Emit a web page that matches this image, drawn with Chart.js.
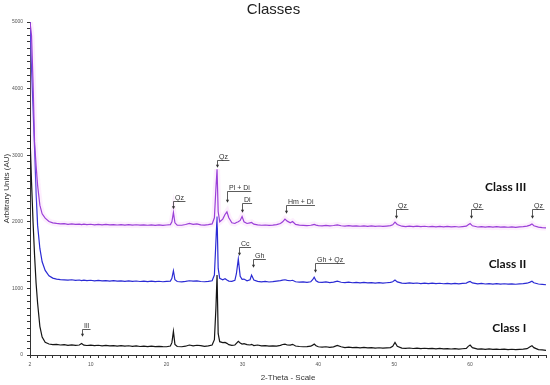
<!DOCTYPE html>
<html>
<head>
<meta charset="utf-8">
<script src="https://cdn.jsdelivr.net/npm/chart.js@4"></script>
<style>
  body { margin: 0; background: #fff; }
  #wrap { width: 550px; height: 385px; }
</style>
</head>
<body>
<div id="wrap"><canvas id="xrdChart" width="550" height="385"></canvas></div>
<script>
// 2-theta sampling (degrees)
const twoTheta = [
  2.0, 2.2, 2.4, 2.6, 2.8, 3.0, 3.3, 3.6, 4.0, 4.5,
  5.0, 5.5, 6.0, 6.5, 7.0, 7.5, 8.0, 8.5, 8.8, 9.1,
  9.5, 10.0, 10.5, 11.0, 11.5, 12.0, 12.5, 13.0, 13.5, 14.0,
  14.5, 15.0, 15.5, 16.0, 16.5, 17.0, 17.5, 18.0, 18.5, 19.0,
  19.5, 20.0, 20.5, 20.7, 20.9, 21.1, 21.4, 22.0, 22.5, 23.0,
  23.5, 24.0, 24.5, 25.0, 25.5, 26.0, 26.3, 26.5, 26.65, 26.8,
  27.0, 27.4, 27.7, 27.95, 28.2, 28.6, 29.0, 29.2, 29.45, 29.7,
  29.95, 30.2, 30.6, 31.0, 31.2, 31.5, 32.0, 32.5, 33.0, 33.5,
  34.0, 34.5, 35.0, 35.3, 35.6, 35.9, 36.3, 36.6, 37.0, 37.5,
  38.0, 38.5, 39.0, 39.25, 39.45, 39.7, 40.0, 40.5, 41.0, 41.5,
  42.0, 42.5, 43.0, 43.5, 44.0, 44.5, 45.0, 45.5, 46.0, 46.5,
  47.0, 47.5, 48.0, 48.5, 49.0, 49.5, 49.8, 50.1, 50.4, 51.0,
  51.5, 52.0, 52.5, 53.0, 53.5, 54.0, 54.5, 55.0, 55.5, 56.0,
  56.5, 57.0, 57.5, 58.0, 58.5, 59.0, 59.5, 59.75, 60.0, 60.3,
  61.0, 61.5, 62.0, 62.5, 63.0, 63.5, 64.0, 64.5, 65.0, 65.5,
  66.0, 66.5, 67.0, 67.5, 67.9, 68.15, 68.4, 69.0, 69.5, 70.0
];

// Class III intensities (AU)
const class3 = [
  5000, 4800, 4100, 3200, 2850, 2550, 2250, 2120, 2055, 2005,
  1985, 1975, 1968, 1972, 1962, 1968, 1960, 1966, 1958, 1964,
  1957, 1963, 1955, 1962, 1954, 1960, 1953, 1959, 1952, 1958,
  1951, 1957, 1950, 1956, 1949, 1955, 1948, 1954, 1947, 1953,
  1946, 1952, 1958, 2000, 2140, 1985, 1950, 1948, 1960, 1975,
  1962, 1970, 1955, 1950, 1958, 1968, 2060, 2500, 2790, 2150,
  2000, 2040, 2110, 2150, 2060, 1985, 1975, 1990, 2000, 2020,
  2080, 2000, 1975, 1985, 1990, 1965, 1955, 1948, 1952, 1945,
  1950, 1958, 1975, 2000, 2040, 2010, 1985, 2005, 1960, 1950,
  1946, 1942, 1948, 1955, 1960, 1950, 1944, 1940, 1946, 1938,
  1944, 1955, 1941, 1936, 1942, 1935, 1940, 1933, 1939, 1932,
  1938, 1931, 1937, 1930, 1936, 1942, 1955, 1995, 1960, 1934,
  1929, 1935, 1928, 1934, 1927, 1933, 1926, 1932, 1925, 1931,
  1924, 1930, 1923, 1929, 1922, 1928, 1935, 1955, 1975, 1940,
  1922, 1928, 1921, 1927, 1920, 1926, 1919, 1925, 1918, 1924,
  1917, 1923, 1928, 1935, 1950, 1968, 1940, 1920, 1914, 1910
];

// Class II intensities (AU)
const class2 = [
  5000, 4300, 3700, 3100, 2450, 1950, 1600, 1400, 1270, 1190,
  1155, 1140, 1132, 1128, 1125, 1130, 1120, 1126, 1118, 1124,
  1116, 1122, 1114, 1120, 1112, 1118, 1110, 1116, 1108, 1114,
  1107, 1113, 1105, 1111, 1104, 1110, 1102, 1108, 1101, 1107,
  1100, 1106, 1110, 1150, 1265, 1130, 1104, 1098, 1105, 1115,
  1108, 1114, 1104, 1100, 1106, 1115, 1200, 1700, 2080, 1300,
  1150, 1130, 1145, 1125, 1110, 1105, 1120, 1220, 1440, 1180,
  1135, 1140, 1115, 1130, 1200, 1125, 1105, 1098, 1104, 1096,
  1102, 1110, 1118, 1125, 1130, 1120, 1115, 1122, 1100, 1094,
  1098, 1092, 1100, 1130, 1168, 1115, 1095, 1090, 1098, 1088,
  1094, 1110, 1092, 1086, 1093, 1085, 1091, 1083, 1089, 1082,
  1088, 1080, 1086, 1079, 1085, 1090, 1100, 1125, 1098, 1080,
  1076, 1083, 1075, 1081, 1073, 1080, 1072, 1078, 1071, 1077,
  1070, 1076, 1069, 1075, 1068, 1074, 1080, 1095, 1105, 1082,
  1068, 1074, 1066, 1072, 1065, 1071, 1064, 1070, 1063, 1069,
  1062, 1068, 1072, 1078, 1095, 1108, 1085, 1066, 1060, 1055
];

// Class I intensities (AU)
const class1 = [
  3300, 2600, 2000, 1500, 1080, 780, 430, 270, 190, 165,
  155, 160, 150, 156, 146, 152, 145, 150, 172, 148,
  143, 149, 140, 146, 138, 144, 137, 142, 134, 140,
  133, 139, 131, 136, 128, 134, 127, 132, 125, 130,
  126, 124, 135, 185, 355, 160, 128, 124, 132, 150,
  138, 146, 140, 130, 136, 150, 230, 700, 1200, 320,
  200, 185, 190, 175, 155, 145, 150, 175, 205, 180,
  165, 170, 155, 150, 160, 142, 150, 136, 140, 132,
  138, 133, 145, 158, 162, 150, 148, 160, 135, 128,
  124, 127, 132, 148, 165, 138, 124, 118, 124, 116,
  122, 145, 124, 112, 118, 110, 115, 108, 113, 106,
  111, 104, 109, 102, 107, 112, 130, 190, 130, 104,
  99, 105, 98, 103, 96, 101, 95, 99, 93, 98,
  92, 97, 90, 95, 89, 94, 100, 130, 150, 110,
  88, 93, 86, 91, 85, 89, 83, 88, 81, 86,
  80, 85, 88, 95, 125, 140, 110, 80, 76, 70
];

// Axis ticks
const xTickLabels = [2, 10, 20, 30, 40, 50, 60];
const yTickLabels = [0, 1000, 2000, 3000, 4000, 5000];

// Mineral peak annotations: label, 2-theta, arrow tip value, bracket value
const peakLabels = ['Qz', 'Qz', 'Pl + Di', 'Di', 'Hm + Di', 'Qz', 'Qz', 'Qz', 'Cc', 'Gh', 'Gh + Qz', 'Ill'];
const peakAngles = [20.9, 26.65, 28.0, 30.0, 35.7, 50.2, 60.1, 68.1, 29.5, 31.4, 39.5, 8.9];
const peakTips = [2190, 2810, 2285, 2135, 2120, 2045, 2045, 2045, 1490, 1310, 1235, 275];
const peakBars = [2318, 2933, 2468, 2288, 2258, 2198, 2198, 2198, 1628, 1448, 1388, 383];

// Class names placed at the right end of each pattern
const classNames = ['Class III', 'Class II', 'Class I'];
const classNameAngle = 67.4;
const classNameValues = [2528, 1358, 398];

const toPoints = ys => twoTheta.map((x, i) => ({ x: x, y: ys[i] }));

// Draw peak markers and class names
const labelPlugin = {
    id: 'xrdLabels',
    afterDatasetsDraw(chart) {
        const ctx = chart.ctx;
        const xs = chart.scales.x;
        const ys = chart.scales.y;
        ctx.save();

        ctx.font = '7px "Liberation Sans", Arial, sans-serif';
        ctx.strokeStyle = '#333';
        ctx.fillStyle = '#333';
        ctx.lineWidth = 0.8;
        peakLabels.forEach((label, i) => {
            const px = Math.round(xs.getPixelForValue(peakAngles[i])) + 0.5;
            const tip = ys.getPixelForValue(peakTips[i]);
            const bar = Math.round(ys.getPixelForValue(peakBars[i])) + 0.5;
            const w = ctx.measureText(label).width;
            ctx.beginPath();
            ctx.moveTo(px + w + 3, bar);
            ctx.lineTo(px, bar);
            ctx.lineTo(px, tip - 2);
            ctx.stroke();
            ctx.beginPath();
            ctx.moveTo(px - 1.6, tip - 3);
            ctx.lineTo(px + 1.6, tip - 3);
            ctx.lineTo(px, tip);
            ctx.closePath();
            ctx.fill();
            ctx.textAlign = 'left';
            ctx.textBaseline = 'alphabetic';
            ctx.fillText(label, px + 1.5, bar - 1.5);
        });

        ctx.font = 'bold 12px Lato, "Open Sans", sans-serif';
        ctx.fillStyle = '#111';
        ctx.textAlign = 'right';
        ctx.textBaseline = 'middle';
        classNames.forEach((name, i) => {
            ctx.fillText(name, xs.getPixelForValue(classNameAngle), ys.getPixelForValue(classNameValues[i]));
        });
        ctx.restore();
    }
};

const ctx = document.getElementById('xrdChart').getContext('2d');
const xrdChart = new Chart(ctx, {
    type: 'line',
    data: {
        datasets: [
            {
                label: 'Class III',
                data: toPoints(class3),
                borderColor: '#9a3fd8',
                borderWidth: 1.2,
                pointRadius: 0,
                tension: 0,
                order: 0
            },
            {
                label: 'Class III band',
                data: toPoints(class3),
                borderColor: 'rgba(245, 180, 245, 0.22)',
                borderWidth: 6,
                pointRadius: 0,
                tension: 0,
                order: 1
            },
            {
                label: 'Class II',
                data: toPoints(class2),
                borderColor: '#2b2bd4',
                borderWidth: 1.2,
                pointRadius: 0,
                tension: 0,
                order: 2
            },
            {
                label: 'Class I',
                data: toPoints(class1),
                borderColor: '#151515',
                borderWidth: 1.2,
                pointRadius: 0,
                tension: 0,
                order: 3
            }
        ]
    },
    options: {
        responsive: false,
        animation: false,
        layout: { padding: { left: 0, right: 3, top: 0, bottom: 0 } },
        plugins: {
            legend: { display: false },
            tooltip: { enabled: false },
            title: {
                display: true,
                text: 'Classes',
                color: '#222',
                font: { family: '"Liberation Sans", Arial, sans-serif', size: 15, weight: 'normal' },
                padding: { top: 1, bottom: 3 }
            }
        },
        scales: {
            x: {
                type: 'linear',
                min: 2,
                max: 70,
                afterFit: scale => { scale.height = 30; },
                border: { color: '#333', width: 1 },
                grid: { drawOnChartArea: false, drawTicks: true, tickLength: 3, color: '#333' },
                ticks: {
                    stepSize: 1,
                    autoSkip: false,
                    maxRotation: 0,
                    padding: 4,
                    color: '#555',
                    font: { family: '"Liberation Sans", Arial, sans-serif', size: 5 },
                    callback: value => xTickLabels.includes(value) ? value : ''
                },
                title: {
                    display: true,
                    text: '2-Theta - Scale',
                    color: '#333',
                    font: { family: '"Liberation Sans", Arial, sans-serif', size: 8 },
                    padding: { top: 0, bottom: 2 }
                }
            },
            y: {
                min: 0,
                max: 5000,
                afterFit: scale => { scale.width = 30; },
                border: { color: '#333', width: 1 },
                grid: { drawOnChartArea: false, drawTicks: true, tickLength: 3, color: '#333' },
                ticks: {
                    stepSize: 100,
                    autoSkip: false,
                    padding: 4,
                    color: '#555',
                    font: { family: '"Liberation Sans", Arial, sans-serif', size: 5 },
                    callback: value => yTickLabels.includes(value) ? value : ''
                },
                title: {
                    display: true,
                    text: 'Arbitrary Units (AU)',
                    color: '#333',
                    font: { family: '"Liberation Sans", Arial, sans-serif', size: 8 },
                    padding: { top: 2, bottom: 2 }
                }
            }
        }
    },
    plugins: [labelPlugin]
});
</script>
</body>
</html>
